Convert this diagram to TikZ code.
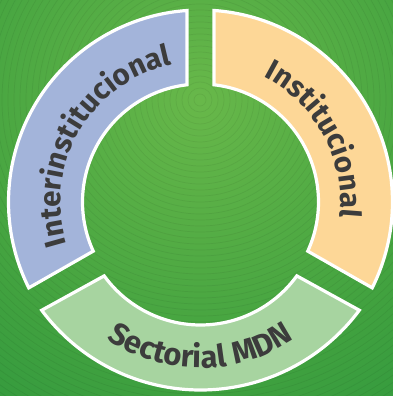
\documentclass[tikz,border=0pt]{standalone}
\usepackage{fontspec}
\setmainfont{Fira Sans}
\usetikzlibrary{calc,decorations.text}
\definecolor{cblue}{HTML}{A3B4DA}
\definecolor{corange}{HTML}{FDD797}
\definecolor{cgreen}{HTML}{A7D4A0}
\definecolor{txtc}{HTML}{3C3C3C}
\definecolor{bgA}{HTML}{68B84A}
\definecolor{bgB}{HTML}{40A13F}
\definecolor{bgC}{HTML}{24913D}
\definecolor{bgD}{HTML}{178439}
\pgfdeclareradialshading{bgshade}{\pgfpointorigin}{color(0bp)=(bgA); color(18bp)=(bgB); color(34bp)=(bgC); color(50bp)=(bgD)}
\tikzset{
  sector/.style={draw=white, line width=3.2pt, line join=miter},
  ringline/.style={black, opacity=0.06, line width=0.7pt},
  arclabel/.style 2 args={decorate, decoration={text along path, text align=center, text color=txtc, text={|\fontsize{#1}{#1}\selectfont\bfseries|#2}}}
}
\begin{document}
\begin{tikzpicture}[x=1pt,y=1pt]
\useasboundingbox (0,0) rectangle (393,-396);
\coordinate (C1) at (200.5,-202);
\coordinate (C2) at (200.5,-206);
\coordinate (C3) at (200.5,-192);
\coordinate (CT) at (200.5,-200);
\coordinate (RC) at (200,-100);
\begin{scope}
  \clip (0,0) rectangle (393,-396);
  \shade[shading=bgshade] (RC) circle (380);
  \foreach \r in {6,12,...,420} \draw[ringline] (RC) circle (\r);
\end{scope}
% left sector
\draw[sector, fill=cblue] ($(C1)+(206.57:192)$) arc[start angle=206.57, end angle=94.03, radius=192]
  -- ($(C1)+(96.57:118)$) arc[start angle=96.57, end angle=204.62, radius=118] -- cycle;
% right sector
\draw[sector, fill=corange] ($(C1)+(85.97:192)$) arc[start angle=85.97, end angle=-26.57, radius=192]
  -- ($(C1)+(-24.62:118)$) arc[start angle=-24.62, end angle=83.43, radius=118] -- cycle;
% bottom sector
\draw[sector, fill=cgreen] ($(C3)+(216.67:198)$) arc[start angle=216.67, end angle=323.33, radius=198]
  -- ($(C2)+(324.04:119)$) arc[start angle=324.04, end angle=215.96, radius=119] -- cycle;
% labels
\path[arclabel={29.5}{Interinstitucional}] ($(C1)+(219.5:140)$) arc[start angle=219.5, end angle=79.5, radius=140];
\path[arclabel={29.5}{Institucional}] ($(C1)+(98.5:140)$) arc[start angle=98.5, end angle=-41.5, radius=140];
\path[arclabel={31}{Sectorial MDN}] ($(CT)+(200:168)$) arc[start angle=200, end angle=340, radius=168];
\end{tikzpicture}
\end{document}
